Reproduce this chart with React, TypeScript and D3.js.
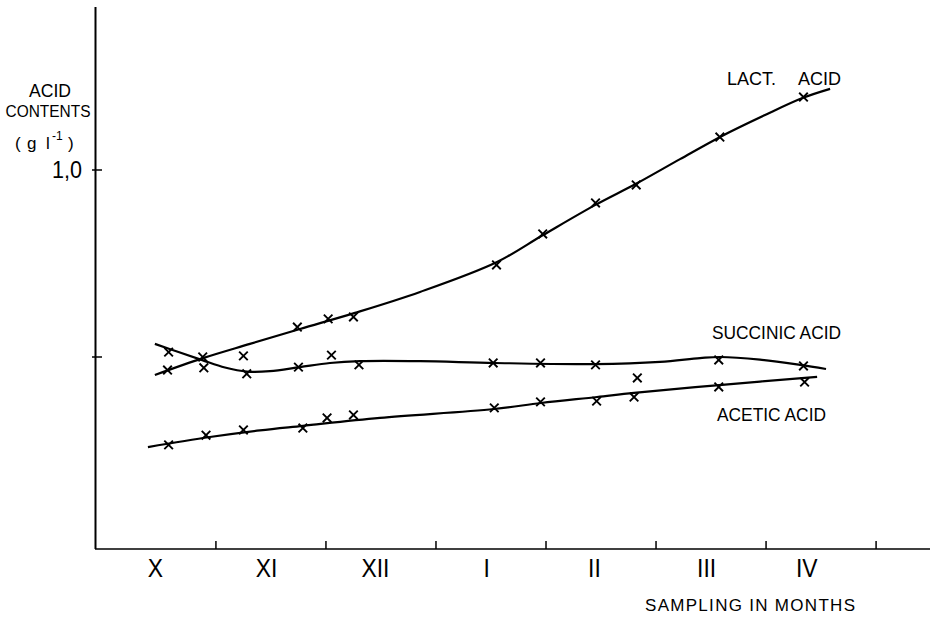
import React from "react";
import * as d3 from "d3";

// x in months since 1 October, y in g/l
const monthTicks = [1, 2, 3, 4, 5, 6, 7];
const monthLabels = ["X", "XI", "XII", "I", "II", "III", "IV"];
const monthLabelPos = [0.45, 1.46, 2.45, 3.46, 4.44, 5.46, 6.37];
const yTicks = [0.5, 1.0];

const lacticPoints: [number, number][] = [
  [0.56, 0.465], [0.88, 0.5], [1.25, 0.503], [1.74, 0.58], [2.02, 0.602], [2.25, 0.607],
  [3.55, 0.746], [3.97, 0.829], [4.45, 0.912], [4.82, 0.96], [5.58, 1.088], [6.34, 1.195],
];
const succinicPoints: [number, number][] = [
  [0.57, 0.513], [0.89, 0.471], [1.28, 0.455], [1.75, 0.473], [2.05, 0.505], [2.3, 0.479],
  [3.52, 0.484], [3.95, 0.484], [4.45, 0.479], [4.83, 0.444], [5.57, 0.492], [6.34, 0.476],
];
const aceticPoints: [number, number][] = [
  [0.57, 0.265], [0.91, 0.291], [1.25, 0.305], [1.79, 0.31], [2.01, 0.337], [2.25, 0.345],
  [3.53, 0.364], [3.95, 0.38], [4.46, 0.382], [4.8, 0.393], [5.57, 0.42], [6.35, 0.433],
];

const lacticCurve: [number, number][] = [
  [0.445, 0.452], [0.882, 0.497], [1.309, 0.535], [1.764, 0.575], [2.264, 0.618], [2.855, 0.674],
  [3.555, 0.754], [3.973, 0.826], [4.445, 0.906], [4.818, 0.963], [5.218, 1.029], [5.6, 1.091],
  [5.991, 1.147], [6.336, 1.193], [6.582, 1.217],
];
const succinicCurve: [number, number][] = [
  [0.445, 0.535], [0.673, 0.512], [0.882, 0.491], [1.082, 0.472], [1.282, 0.461], [1.491, 0.462],
  [1.764, 0.473], [2.036, 0.484], [2.309, 0.489], [2.855, 0.489], [3.536, 0.484], [4.445, 0.481],
  [5.036, 0.487], [5.4, 0.497], [5.582, 0.5], [5.945, 0.493], [6.309, 0.479], [6.545, 0.468],
];
const aceticCurve: [number, number][] = [
  [0.382, 0.259], [0.945, 0.286], [1.4, 0.304], [1.791, 0.316], [2.491, 0.337], [3.527, 0.361],
  [3.955, 0.377], [4.464, 0.393], [4.8, 0.404], [5.573, 0.425], [6.464, 0.447],
];

const W = 935;
const H = 618;
const FONT = "'Liberation Sans', Arial, sans-serif";

export default function App() {
  const x = d3.scaleLinear().domain([-0.09, 7.49]).range([96, 930]);
  const y = d3.scaleLinear().domain([0, 1.0]).range([544, 170]);
  const line = d3
    .line<[number, number]>()
    .x((d) => x(d[0]))
    .y((d) => y(d[1]))
    .curve(d3.curveCatmullRom.alpha(0.5));

  const axisY = 549;
  const mark = (pts: [number, number][], key: string) =>
    pts.map((p, i) => {
      const cx = x(p[0]);
      const cy = y(p[1]);
      const s = 4.3;
      return (
        <path
          key={key + i}
          d={`M${cx - s},${cy - s}L${cx + s},${cy + s}M${cx + s},${cy - s}L${cx - s},${cy + s}`}
          stroke="#000"
          strokeWidth={1.9}
          fill="none"
        />
      );
    });

  return (
    <svg
      width={W}
      height={H}
      style={{ position: "absolute", left: 0, top: 0, background: "#fff" }}
      fontFamily={FONT}
    >
      <rect width={W} height={H} fill="#fff" />
      {/* axes */}
      <line x1={95.5} y1={7} x2={95.5} y2={axisY} stroke="#000" strokeWidth={2} />
      <line x1={95} y1={axisY} x2={930} y2={axisY} stroke="#000" strokeWidth={1.7} />
      {yTicks.map((t) => (
        <line key={"yt" + t} x1={92} x2={102} y1={y(t)} y2={y(t)} stroke="#000" strokeWidth={1.5} />
      ))}
      {monthTicks.map((m) => (
        <line key={"xt" + m} x1={x(m)} x2={x(m)} y1={axisY} y2={axisY - 8} stroke="#000" strokeWidth={1.5} />
      ))}
      {monthLabels.map((l, i) => (
        <text key={l} x={x(monthLabelPos[i])} y={577} fontSize={26} textAnchor="middle"
          transform={`translate(${x(monthLabelPos[i])},0) scale(0.88,1) translate(${-x(monthLabelPos[i])},0)`}>
          {l}
        </text>
      ))}
      <text x={645} y={611} fontSize={17} textLength={210} lengthAdjust="spacing">
        SAMPLING IN MONTHS
      </text>

      {/* y label */}
      <text x={50} y={97} fontSize={18} textAnchor="middle" textLength={42} lengthAdjust="spacingAndGlyphs">ACID</text>
      <text x={48} y={117} fontSize={16} textAnchor="middle" textLength={85} lengthAdjust="spacingAndGlyphs">
        CONTENTS
      </text>
      <text y={149} fontSize={17}>
        <tspan x={15}>(</tspan>
        <tspan x={27}>g</tspan>
        <tspan x={46}>l</tspan>
        <tspan x={52} dy={-9} fontSize={12}>-1</tspan>
        <tspan x={68} dy={9}>)</tspan>
      </text>
      <text x={82} y={y(1.0) + 8} fontSize={24} textAnchor="end" textLength={30} lengthAdjust="spacingAndGlyphs">1,0</text>

      {/* curves */}
      <path d={line(lacticCurve) || ""} fill="none" stroke="#000" strokeWidth={2.2} />
      <path d={line(succinicCurve) || ""} fill="none" stroke="#000" strokeWidth={2.2} />
      <path d={line(aceticCurve) || ""} fill="none" stroke="#000" strokeWidth={2.2} />
      {mark(lacticPoints, "l")}
      {mark(succinicPoints, "s")}
      {mark(aceticPoints, "a")}

      {/* series labels */}
      <text x={727} y={85} fontSize={18}>LACT.</text>
      <text x={798} y={85} fontSize={18}>ACID</text>
      <text x={712} y={339} fontSize={18} textLength={129} lengthAdjust="spacingAndGlyphs">SUCCINIC ACID</text>
      <text x={717} y={421} fontSize={18} textLength={109} lengthAdjust="spacingAndGlyphs">ACETIC ACID</text>
    </svg>
  );
}
